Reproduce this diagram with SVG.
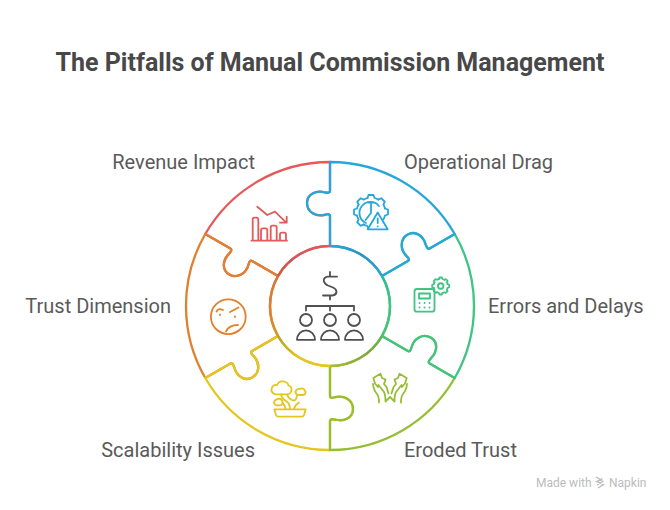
<svg xmlns="http://www.w3.org/2000/svg" width="670" height="510" viewBox="0 0 670 510">
<style>
text{font-family:Roboto,"Liberation Sans",sans-serif}
.title{font-size:25px;font-weight:700;fill:#484848}
.label{font-size:20px;fill:#5a5a5a}
.foot{font-size:12px;fill:#bbb}
.ic{fill:none;stroke-width:1.8;stroke-linecap:round;stroke-linejoin:round}
.piece{fill:none;stroke-width:2.3;stroke-linejoin:miter}
.ring{fill:none;stroke-width:2.5}
.red{stroke:#E5595B}.org{stroke:#E0812F}.yel{stroke:#E4C61F}.lim{stroke:#95BE34}.grn{stroke:#3FC483}.blu{stroke:#27A7D9}.dk{stroke:#505050}
</style>
<defs>
<path id="p" class="piece" d="M0 -144A144 144 0 0 1 124.7 -72L99.6 -57.5C97.9 -56.5 96.9 -58.2 95.8 -61.1C93.5 -70.1 85.5 -75.9 77.7 -71.4C69.9 -66.9 69.6 -56.4 77.2 -49.2C78.7 -47.7 79.7 -46 77.9 -45L52 -30A60 60 0 0 0 0 -60V-90C0 -92 -2 -92 -4 -91.5C-14 -88.5 -23 -94 -23 -103C-23 -112 -14 -116 -5 -113.5C-2 -113 0 -113 0 -115V-144"/>
<path id="t" d="M-3.5 -14L-2.5 -17H2.5L3.5 -14A14.4 14.4 0 0 1 7.42 -12.37"/>
<linearGradient id="gR" gradientUnits="userSpaceOnUse" x1="-52" y1="-30" x2="0" y2="-60"><stop offset="0" stop-color="#C9603F"/><stop offset=".35" stop-color="#D4555A"/><stop offset="1" stop-color="#E5595B"/></linearGradient>
<linearGradient id="gO" gradientUnits="userSpaceOnUse" x1="-52" y1="30" x2="-52" y2="-30"><stop offset="0" stop-color="#CF9A2A"/><stop offset=".3" stop-color="#E0812F"/><stop offset="1" stop-color="#D9743A"/></linearGradient>
<linearGradient id="gY" gradientUnits="userSpaceOnUse" x1="-52" y1="30" x2="0" y2="60"><stop offset="0" stop-color="#B4A52A"/><stop offset=".5" stop-color="#E4C61F"/><stop offset="1" stop-color="#E4C61F"/></linearGradient>
<linearGradient id="gL" gradientUnits="userSpaceOnUse" x1="0" y1="60" x2="52" y2="30"><stop offset="0" stop-color="#A9BE2C"/><stop offset=".6" stop-color="#87A83A"/><stop offset="1" stop-color="#5DB55E"/></linearGradient>
<linearGradient id="gG" gradientUnits="userSpaceOnUse" x1="52" y1="30" x2="52" y2="-30"><stop offset="0" stop-color="#4DBF72"/><stop offset=".5" stop-color="#3FC483"/><stop offset="1" stop-color="#34B89A"/></linearGradient>
<linearGradient id="gB" gradientUnits="userSpaceOnUse" x1="0" y1="-60" x2="52" y2="-30"><stop offset="0" stop-color="#27A7D9"/><stop offset=".5" stop-color="#2F8FBF"/><stop offset="1" stop-color="#27A7D9"/></linearGradient>
</defs>
<rect width="670" height="510" fill="#fff"/>
<text class="title" x="330" y="71" text-anchor="middle">The Pitfalls of Manual Commission Management</text>

<g id="connectors"></g>

<g id="revenue-impact">
<use href="#p" class="red" transform="translate(330 306) rotate(-60)"/>
<g class="ic red">
<path d="M257.3 206.7L267.3 215L275 211.7L286 222.4M286.7 216.7V222.7H280"/>
<path d="M251.5 240.7H287M252.7 240.7V219.5Q252.7 217.7 254.5 217.7H256.5Q258.3 217.7 258.3 219.5V240.7M261 240.7V230Q261 228.3 262.7 228.3H265.6Q267.3 228.3 267.3 230V240.7M270.7 240.7V227.4Q270.7 225.7 272.4 225.7H275Q276.7 225.7 276.7 227.4V240.7M280 240.7V234.4Q280 232.7 281.7 232.7H284.3Q286 232.7 286 234.4V240.7"/>
</g>
<text class="label" x="255" y="169" text-anchor="end">Revenue Impact</text>
</g>

<g id="trust-dimension">
<use href="#p" class="org" transform="translate(330 306) rotate(-120)"/>
<g class="ic org">
<circle cx="228.3" cy="316.7" r="17.4"/>
<path d="M216.5 311.5Q218.5 307.5 223 310M230 312L238.5 307.5M220 314.5V315M235 316.5V317M226 331.5Q229 325 238 325"/>
</g>
<text class="label" x="171" y="313" text-anchor="end">Trust Dimension</text>
</g>

<g id="scalability-issues">
<use href="#p" class="yel" transform="translate(330 306) rotate(180)"/>
<g class="ic yel">
<path d="M274.3 409.3H305.7L304 415Q303.4 416.7 301.5 416.7H278.5Q276.6 416.7 276 415Z"/>
<path d="M275 394.3Q270 392 272 387.5Q273.5 384.5 277 385Q279 380.5 284 381.5Q288 382.5 288.5 385.5Q292 386.5 291.5 390Q291 394.3 287 394.3Z"/>
<path d="M297.5 395Q294.5 393 296 390.5Q297.5 388.5 300 389Q303 387.5 304.5 390Q306.5 392.5 305 394Q304 395 302.5 395Z"/>
<path d="M276 405.3Q273 403.5 274.5 401Q276 399 278 399Q281 398 282.5 401.5Q283.3 405.3 280 405.3Z"/>
<path d="M281 394.5Q282 399 286 401Q290 403.5 290 409M287 394.5Q288 398 292 400Q296 402 297 395.5M282.5 403Q285 405 285.5 409M294 409Q295 405 299 402.5"/>
</g>
<text class="label" x="255" y="457" text-anchor="end">Scalability Issues</text>
</g>

<g id="eroded-trust">
<use href="#p" class="lim" transform="translate(330 306) rotate(120)"/>
<g class="ic lim" id="hands">
<path id="h" d="M388.5 393.5L386.5 387L384 384L385.5 379.5L382 378L380.5 373.7L373.3 378L375 383.5L378 387M373 384Q373.5 390 377 394Q379 396.5 379 402.5M378.5 385L384 392Q385.5 394.5 385.5 401.5L390 397"/>
<use href="#h" transform="translate(780 0) scale(-1 1)"/>
</g>
<text class="label" x="404" y="457">Eroded Trust</text>
</g>

<g id="errors-delays">
<use href="#p" class="grn" transform="translate(330 306) rotate(60)"/>
<g class="ic grn">
<rect x="414.5" y="289" width="20" height="22.7" rx="2.5"/>
<rect x="419" y="293.5" width="11" height="5"/>
<path d="M419.5 303H419.6M424.5 303H424.6M429.5 303H429.6M419.5 307.5H419.6M424.5 307.5H424.6M429.5 307.5H429.6"/>
<g transform="translate(440.7 286) scale(.5)" stroke-width="3.6">
<use href="#t"/><use href="#t" transform="rotate(45)"/><use href="#t" transform="rotate(90)"/><use href="#t" transform="rotate(135)"/><use href="#t" transform="rotate(180)"/><use href="#t" transform="rotate(225)"/><use href="#t" transform="rotate(270)"/><use href="#t" transform="rotate(315)"/>
<circle r="5.5"/>
</g>
</g>
<text class="label" x="488" y="313">Errors and Delays</text>
</g>

<g id="operational-drag">
<use href="#p" class="blu" transform="translate(330 306)"/>
<g class="ic blu">
<g transform="translate(371 212)">
<use href="#t"/><use href="#t" transform="rotate(45)"/><use href="#t" transform="rotate(-45)"/><use href="#t" transform="rotate(-90)"/><use href="#t" transform="rotate(-135)"/><use href="#t" transform="rotate(180)"/><use href="#t" transform="rotate(90)"/>
</g>
<path d="M379 206A11 11 0 1 0 366 223M371 202.5V213L365.5 220M368 202.5H374"/>
<path fill="#fff" d="M377.7 212.5L367.7 229.3H387.7Z"/>
<path d="M377.7 218.5V223M377.7 226.3V226.4"/>
</g>
<text class="label" x="404" y="169">Operational Drag</text>
</g>

<g id="center">
<g transform="translate(330 306)">
<path class="ring" stroke="url(#gR)" d="M-52 -30A60 60 0 0 1 0 -60"/>
<path class="ring" stroke="url(#gO)" d="M-52 30A60 60 0 0 1 -52 -30"/>
<path class="ring" stroke="url(#gY)" d="M0 60A60 60 0 0 1 -52 30"/>
<path class="ring" stroke="url(#gL)" d="M52 30A60 60 0 0 1 0 60"/>
<path class="ring" stroke="url(#gG)" d="M52 -30A60 60 0 0 1 52 30"/>
<path class="ring" stroke="url(#gB)" d="M0 -60A60 60 0 0 1 52 -30"/>
</g>
<g class="ic dk">
<path d="M330 272V276.5M337 276.7H327.5Q323.5 277.5 323.8 281Q324.5 284 328 285.5L333 287.5Q336.5 289 336.5 292Q336 295 332.5 295.5H323M330 295.5V299.5"/>
<path d="M306 310.5V306H354V310.5M330 306V310.5"/>
<circle cx="306" cy="320" r="6"/><circle cx="330" cy="320" r="6"/><circle cx="354" cy="320" r="6"/>
<path d="M297 339.8A9 9.5 0 0 1 315 339.8ZM321 339.8A9 9.5 0 0 1 339 339.8ZM345 339.8A9 9.5 0 0 1 363 339.8Z"/>
</g>
</g>

<g id="footer">
<text class="foot" x="536" y="486.5">Made with</text>
<path d="M596 477L601.5 480L596.5 481.5L603.5 484.5L598 488M596.5 481.5L602.5 478.5M597 485L603.5 481" fill="none" stroke="#bbb" stroke-width="1.3"/>
<text class="foot" x="609" y="486.5">Napkin</text>
</g>
</svg>
